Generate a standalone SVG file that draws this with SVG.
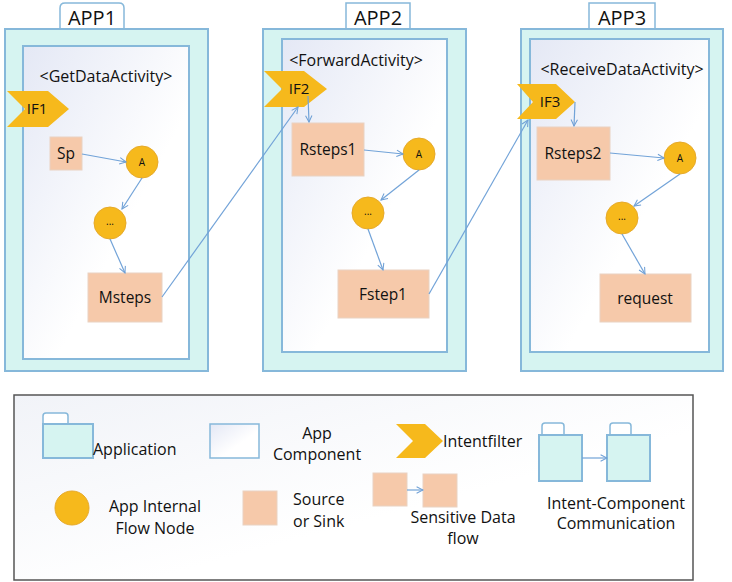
<svg xmlns="http://www.w3.org/2000/svg" width="732" height="582" viewBox="0 0 732 582">
<defs>
<linearGradient id="inner" x1="0" y1="0" x2="0.6" y2="0.6">
<stop offset="0" stop-color="#e4e8f5"/>
<stop offset="1" stop-color="#ffffff"/>
</linearGradient>
<linearGradient id="legbg" x1="0" y1="0" x2="1" y2="1">
<stop offset="0" stop-color="#f1f3f8"/>
<stop offset="0.6" stop-color="#ffffff"/>
</linearGradient>
<marker id="arr" viewBox="0 0 10 10" refX="9" refY="5" markerWidth="8" markerHeight="8" orient="auto" markerUnits="userSpaceOnUse">
<path d="M1,1 L9,5 L1,9" fill="none" stroke="#6fa0d6" stroke-width="1.3"/>
</marker>
</defs>
<style>
.outer{fill:#d6f4f1;stroke:#86b8da;stroke-width:2}
.tab{fill:#ffffff;stroke:#86b8da;stroke-width:1.5}
.inner{fill:url(#inner);stroke:#86b8da;stroke-width:2}
.sq{fill:#f6c9aa;stroke:#e9d2c2;stroke-width:1}
.circ{fill:#f6b91c;stroke:#e6aa2c;stroke-width:1}
.chev{fill:#f6b91c}
.edge{fill:none;stroke:#72a3d8;stroke-width:1.2;marker-end:url(#arr)}
text{font-family:"Open Sans","Noto Sans","Liberation Sans",sans-serif;fill:#111}
.app{font-size:20px;text-anchor:middle}
.act{font-size:16px;text-anchor:middle}
.lbl{font-size:15.5px;text-anchor:middle}
.if{font-size:15px;text-anchor:middle}
.sm{font-size:10px;text-anchor:middle}
.leg{font-size:16px}
</style>

<g id="app1">
<path class="tab" d="M60,29 V8 Q60,3 65,3 H119 Q124,3 124,8 V29"/>
<rect class="outer" x="5" y="29" width="203" height="342"/>
<rect class="inner" x="23" y="46" width="166" height="313"/>
<text class="app" x="92" y="25">APP1</text>
<text class="act" x="106" y="82">&lt;GetDataActivity&gt;</text>
</g>
<g id="app2">
<path class="tab" d="M346,29 V3 H410 V29"/>
<rect class="outer" x="263" y="29" width="203" height="342"/>
<rect class="inner" x="282" y="39" width="165" height="313"/>
<text class="app" x="378" y="25">APP2</text>
<text class="act" x="356" y="66">&lt;ForwardActivity&gt;</text>
</g>
<g id="app3">
<path class="tab" d="M589,29 V3 H655 V29"/>
<rect class="outer" x="521" y="29" width="202" height="342"/>
<rect class="inner" x="530" y="39" width="179" height="313"/>
<text class="app" x="622" y="25">APP3</text>
<text class="act" x="622" y="75">&lt;ReceiveDataActivity&gt;</text>
</g>

<g id="if1"><polygon class="chev" points="7,91 48,91 69,109 48,127 7,127 25,109"/><text class="if" x="37" y="114">IF1</text></g>
<g id="if2"><polygon class="chev" points="264,71 304,71 327,89 304,107 264,107 282,89"/><text class="if" x="299" y="94">IF2</text></g>
<g id="if3"><polygon class="chev" points="517,84 556,84 575,102 556,119 517,119 533,102"/><text class="if" x="550" y="107">IF3</text></g>

<g id="sp"><rect class="sq" x="50" y="137" width="32" height="33"/><text class="lbl" x="66" y="159">Sp</text></g>
<g id="a1"><circle class="circ" cx="142" cy="162" r="16"/><text class="sm" x="142" y="166">A</text></g>
<g id="d1"><circle class="circ" cx="110" cy="223" r="16"/><text class="sm" x="110" y="225">...</text></g>
<g id="msteps"><rect class="sq" x="88" y="273" width="74" height="49"/><text class="lbl" x="125" y="303">Msteps</text></g>

<g id="rsteps1"><rect class="sq" x="292" y="123" width="72" height="53"/><text class="lbl" x="328" y="155">Rsteps1</text></g>
<g id="a2"><circle class="circ" cx="419" cy="154" r="16"/><text class="sm" x="419" y="158">A</text></g>
<g id="d2"><circle class="circ" cx="368" cy="213" r="16"/><text class="sm" x="368" y="215">...</text></g>
<g id="fstep1"><rect class="sq" x="338" y="270" width="91" height="48"/><text class="lbl" x="383" y="300">Fstep1</text></g>

<g id="rsteps2"><rect class="sq" x="537" y="127" width="73" height="53"/><text class="lbl" x="573" y="159">Rsteps2</text></g>
<g id="a3"><circle class="circ" cx="680" cy="158" r="16"/><text class="sm" x="680" y="162">A</text></g>
<g id="d3"><circle class="circ" cx="622" cy="218" r="16"/><text class="sm" x="622" y="220">...</text></g>
<g id="request"><rect class="sq" x="600" y="274" width="91" height="48"/><text class="lbl" x="645" y="304">request</text></g>

<g id="connectors">
<path class="edge" d="M82,154 L126,162"/>
<path class="edge" d="M142,178 L122,209"/>
<path class="edge" d="M110,239 L125,273"/>
<path class="edge" d="M162,297 L298,107"/>
<path class="edge" d="M308,96 L309,122"/>
<path class="edge" d="M364,150 L403,154"/>
<path class="edge" d="M419,170 L381,200"/>
<path class="edge" d="M368,229 L383,270"/>
<path class="edge" d="M429,294 L528,120"/>
<path class="edge" d="M575,102 L574,126"/>
<path class="edge" d="M610,153 L664,158"/>
<path class="edge" d="M680,174 L634,206"/>
<path class="edge" d="M622,234 L645,274"/>
</g>

<g id="legend">
<rect x="14" y="395" width="679" height="185" fill="url(#legbg)" stroke="#555" stroke-width="1.5"/>
<path class="tab" d="M43,424 V416 Q43,413 46,413 H65 Q68,413 68,416 V424"/>
<rect class="outer" x="43" y="424" width="50" height="34" stroke-width="1.5"/>
<text class="leg" x="93" y="455">Application</text>
<rect x="210" y="424" width="49" height="34" fill="url(#inner)" stroke="#86b8da" stroke-width="1.5"/>
<text class="leg" x="317" y="439" text-anchor="middle">App</text>
<text class="leg" x="317" y="460" text-anchor="middle">Component</text>
<polygon class="chev" points="396,424 425,424 443,441 425,458 396,458 413,441"/>
<text class="leg" x="443" y="447">Intentfilter</text>
<path class="tab" d="M542,435 V426 Q542,423 545,423 H561 Q564,423 564,426 V435"/>
<rect class="outer" x="539" y="435" width="43" height="46" stroke-width="1.5"/>
<path class="tab" d="M610,435 V426 Q610,423 613,423 H628 Q631,423 631,426 V435"/>
<rect class="outer" x="607" y="435" width="43" height="46" stroke-width="1.5"/>
<path class="edge" d="M582,458 L607,458"/>
<text class="leg" x="616" y="509" text-anchor="middle">Intent-Component</text>
<text class="leg" x="616" y="529" text-anchor="middle">Communication</text>
<circle class="circ" cx="72" cy="508" r="17"/>
<text class="leg" x="155" y="512" text-anchor="middle">App Internal</text>
<text class="leg" x="155" y="534" text-anchor="middle">Flow Node</text>
<rect class="sq" x="243" y="491" width="34" height="34"/>
<text class="leg" x="293" y="505">Source</text>
<text class="leg" x="293" y="527">or Sink</text>
<rect class="sq" x="373" y="473" width="34" height="33"/>
<rect class="sq" x="423" y="474" width="34" height="33"/>
<path class="edge" d="M407,490 L423,490"/>
<text class="leg" x="463" y="523" text-anchor="middle">Sensitive Data</text>
<text class="leg" x="463" y="544" text-anchor="middle">flow</text>
</g>
</svg>
